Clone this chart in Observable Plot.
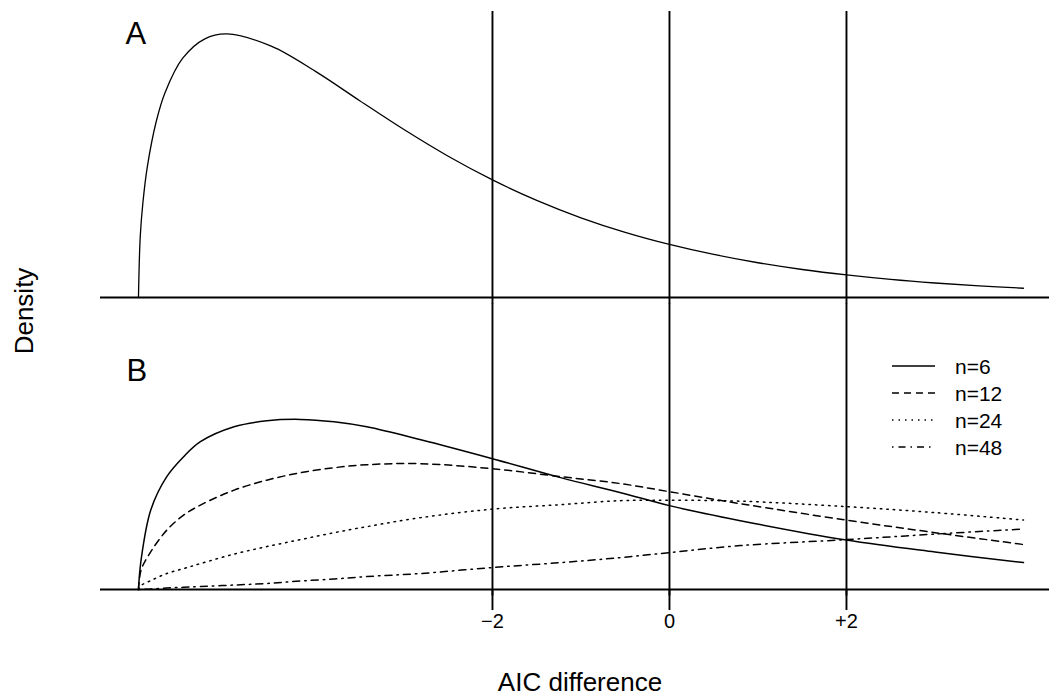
<!DOCTYPE html>
<html><head><meta charset="utf-8">
<script src="https://cdn.jsdelivr.net/npm/d3@7"></script>
<script src="https://cdn.jsdelivr.net/npm/@observablehq/plot@0.6"></script>
<style>
body{margin:0;background:#fff;}
#wrap{position:relative;width:1049px;height:697px;font-family:"Liberation Sans",Arial,Helvetica,sans-serif;color:#000;}
#wrap svg.overlay{position:absolute;left:0;top:0;pointer-events:none;}
</style></head><body><div id="wrap"></div>
<script>
// ---- data ----
const panels = ["A", "B"];
const vlines = [-2, 0, 2];
const xTicks = [-2, 0, 2];
const tickLabels = ["−2", "0", "+2"];
const xTitle = "AIC difference";
const yTitle = "Density";

// Panel A curve
const xA = [-6, -5.98, -5.95, -5.9, -5.8, -5.7, -5.5, -5.25, -5, -4.5, -4, -3.5, -3, -2.5, -2, -1.5, -1, -0.5, 0, 0.5, 1, 1.5, 2, 2.5, 3, 3.5, 4];
const densityA = [0, 0.0559, 0.0870, 0.1200, 0.1614, 0.1881, 0.2197, 0.2375, 0.2420, 0.2308, 0.2076, 0.1807, 0.1542, 0.1297, 0.1080, 0.0892, 0.0732, 0.0598, 0.0487, 0.0395, 0.0319, 0.0257, 0.0207, 0.0166, 0.0133, 0.0106, 0.0085];

// Panel B curves
const seriesB = ["n=6", "n=12", "n=24", "n=48"];
const dashB = ["none", "7,5", "1.5,5", "1.5,5,7,5"];
const xB = [-6, -5.97, -5.86, -5.68, -5.49, -5.3, -4.92, -4.55, -4.17, -3.79, -3.42, -2.81, -2, -1.23, -0.55, 0, 0.8, 2, 3, 4];
const densityB6  = [0, 0.0275, 0.0733, 0.1036, 0.1219, 0.1357, 0.1494, 0.1549, 0.1562, 0.1540, 0.1494, 0.1375, 0.1201, 0.1027, 0.0889, 0.0770, 0.0632, 0.0454, 0.0344, 0.0247];
const densityB12 = [0, 0.0180, 0.0348, 0.0545, 0.0683, 0.0775, 0.0912, 0.1004, 0.1072, 0.1118, 0.1146, 0.1155, 0.1109, 0.1036, 0.0972, 0.0898, 0.0788, 0.0637, 0.0522, 0.0413];
const densityB24 = [0, 0.0037, 0.0082, 0.0147, 0.0192, 0.0238, 0.0325, 0.0394, 0.0458, 0.0522, 0.0577, 0.0660, 0.0738, 0.0779, 0.0816, 0.0820, 0.0811, 0.0761, 0.0706, 0.0638];
const densityB48 = [0, 0, 0.0004, 0.0014, 0.0020, 0.0027, 0.0041, 0.0055, 0.0078, 0.0096, 0.0119, 0.0147, 0.0202, 0.0247, 0.0293, 0.0339, 0.0403, 0.0458, 0.0509, 0.0555];
const valuesB = [densityB6, densityB12, densityB24, densityB48];

// ---- tables ----
const rowsA = xA.map((x, i) => ({x, y: densityA[i], panel: "A"}));
const rowsB = seriesB.map((s, k) => xB.map((x, i) => ({x, y: valuesB[k][i], panel: "B", series: s})));

const FONT = '"Liberation Sans", Arial, Helvetica, sans-serif';

const chart = Plot.plot({
  width: 1049,
  height: 697,
  marginTop: 11,
  marginBottom: 107,
  marginLeft: 100,
  marginRight: 0,
  style: {fontFamily: FONT, fontSize: "20px", color: "#000", background: "#fff", overflow: "visible"},
  x: {domain: [-6.429, 4.294]},
  y: {domain: [0, 0.2626], axis: null},
  fy: {domain: panels, paddingInner: 0.0205, paddingOuter: 0, axis: null, label: null},
  marks: [
    Plot.ruleX(vlines, {stroke: "#000", strokeWidth: 1.9, insetBottom: -6.5}),
    Plot.ruleY([0], {stroke: "#000", strokeWidth: 2}),
    Plot.line(rowsA, {x: "x", y: "y", fy: "panel", curve: "catmull-rom", stroke: "#000", strokeWidth: 1.3}),
    ...rowsB.map((rows, k) => Plot.line(rows, {
      x: "x", y: "y", fy: "panel", curve: "catmull-rom", stroke: "#000",
      strokeWidth: 1.5, strokeDasharray: dashB[k]
    })),
    Plot.text(["A"], {fy: d => d, text: d => d, frameAnchor: "top-left", dx: 25, dy: 10, fontSize: 31}),
    Plot.text(["B"], {fy: d => d, text: d => d, frameAnchor: "top-left", dx: 26, dy: 55, fontSize: 31}),
    Plot.axisX(xTicks, {
      anchor: "bottom", tickSize: 21, tickPadding: 3, strokeWidth: 1.9,
      tickFormat: d => tickLabels[xTicks.indexOf(d)], label: null, fontSize: 20
    })
  ]
});

const wrap = document.getElementById("wrap");
wrap.appendChild(chart);

// make sure tick labels use the intended size
d3.select(chart).selectAll('g[aria-label="x-axis tick label"] text, g[aria-label="x-axis tick label"]')
  .attr("font-size", 20).style("font-size", "20px");

// ---- overlay: axis titles and legend ----
const ov = d3.select(wrap).append("svg")
  .attr("class", "overlay")
  .attr("width", 1049).attr("height", 697)
  .style("font-family", FONT);

ov.append("text")
  .attr("x", 580).attr("y", 691)
  .attr("text-anchor", "middle")
  .attr("font-size", 26)
  .text(xTitle);

ov.append("text")
  .attr("transform", "translate(33,311) rotate(-90)")
  .attr("text-anchor", "middle")
  .attr("font-size", 26)
  .text(yTitle);

const legendY = [366, 393, 420, 447];
const lg = ov.append("g");
seriesB.forEach((s, k) => {
  lg.append("line")
    .attr("x1", 892).attr("x2", 935)
    .attr("y1", legendY[k]).attr("y2", legendY[k])
    .attr("stroke", "#000").attr("stroke-width", 1.5)
    .attr("stroke-dasharray", dashB[k]);
  lg.append("text")
    .attr("x", 955).attr("y", legendY[k])
    .attr("dy", "0.36em")
    .attr("font-size", 21)
    .text(s);
});
</script>
</body></html>
